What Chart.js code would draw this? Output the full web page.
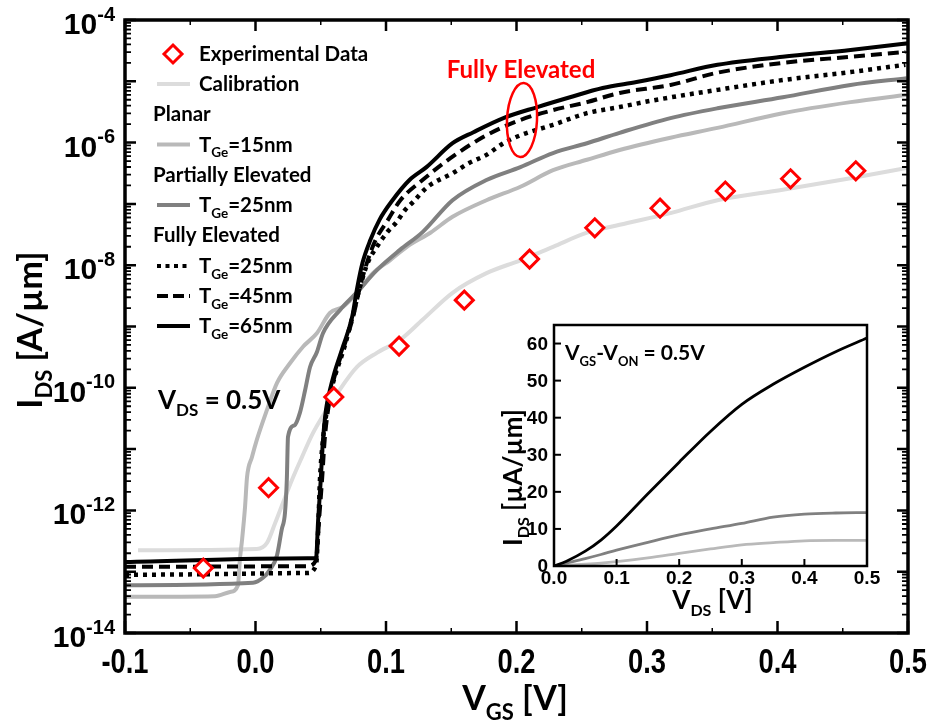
<!DOCTYPE html>
<html><head><meta charset="utf-8">
<script src="https://cdn.jsdelivr.net/npm/chart.js@4.4.1/dist/chart.umd.min.js"></script>
<style>
html,body{margin:0;padding:0;background:#fff;}
#wrap{position:relative;width:932px;height:725px;overflow:hidden;}
#main{position:absolute;left:0;top:0;}
#inset{position:absolute;left:470px;top:305px;}
</style></head><body>
<div id="wrap">
<canvas id="main" width="932" height="725"></canvas>
<canvas id="inset" width="440" height="320"></canvas>
</div>
<script>
// ---------- main plot data (VGS in V, current as log10(I) in A/um) ----------
const vgsExp = [-0.04, 0.01, 0.06, 0.11, 0.16, 0.21, 0.26, 0.31, 0.36, 0.41, 0.46];
const logExp = [-12.94, -11.63, -10.15, -9.32, -8.57, -7.90, -7.39, -7.07, -6.79, -6.59, -6.46];

const vgsCal = [-0.090, 0.001, 0.0088, 0.015, 0.021, 0.028, 0.0356, 0.044, 0.053, 0.063, 0.0778, 0.093, 0.1107, 0.128, 0.151, 0.177, 0.203, 0.228, 0.254, 0.279, 0.318, 0.354, 0.404, 0.456, 0.500];
const logCal = [-12.65, -12.63, -12.53, -12.21, -11.88, -11.50, -11.13, -10.74, -10.41, -10.08, -9.66, -9.43, -9.22, -8.89, -8.45, -8.13, -7.92, -7.70, -7.47, -7.34, -7.15, -6.94, -6.77, -6.58, -6.41];

const vgsPlanar = [-0.1, -0.031, -0.0195, -0.0134, -0.012, -0.0103, -0.008, -0.0065, -0.0027, 0.001, 0.0088, 0.0165, 0.0264, 0.0364, 0.047, 0.057, 0.067, 0.0778, 0.090, 0.103, 0.116, 0.134, 0.151, 0.177, 0.203, 0.228, 0.254, 0.279, 0.318, 0.354, 0.404, 0.456, 0.499];
const logPlanar = [-13.41, -13.40, -13.33, -13.22, -12.81, -12.48, -11.94, -11.46, -11.13, -10.85, -10.36, -9.92, -9.60, -9.33, -9.11, -8.78, -8.68, -8.45, -8.13, -7.92, -7.70, -7.47, -7.21, -6.94, -6.72, -6.45, -6.28, -6.12, -5.92, -5.76, -5.52, -5.34, -5.22];

const vgsPartial = [-0.1, -0.0019, 0.0057, 0.011, 0.0165, 0.020, 0.0226, 0.024, 0.0249, 0.030, 0.034, 0.038, 0.0418, 0.047, 0.0517, 0.0648, 0.0778, 0.093, 0.1107, 0.128, 0.151, 0.177, 0.203, 0.228, 0.254, 0.279, 0.318, 0.354, 0.404, 0.456, 0.499];
const logPartial = [-13.22, -13.18, -13.10, -12.97, -12.73, -12.32, -12.04, -11.50, -10.80, -10.61, -10.41, -10.04, -9.66, -9.42, -9.11, -8.73, -8.44, -8.08, -7.75, -7.46, -6.94, -6.61, -6.40, -6.17, -6.01, -5.84, -5.60, -5.44, -5.26, -5.06, -4.95];

const vgsFull25 = [-0.1, 0.040, 0.0464, 0.048, 0.0494, 0.0517, 0.0548, 0.059, 0.0686, 0.0747, 0.080, 0.086, 0.093, 0.101, 0.108, 0.1146, 0.1207, 0.132, 0.151, 0.164, 0.177, 0.190, 0.203, 0.228, 0.254, 0.279, 0.305, 0.354, 0.404, 0.456, 0.498];
const logFull25 = [-13.05, -13.02, -12.89, -12.32, -11.50, -10.85, -10.36, -9.95, -9.30, -8.81, -8.36, -7.96, -7.70, -7.46, -7.30, -7.10, -6.97, -6.72, -6.50, -6.33, -6.20, -6.01, -5.88, -5.71, -5.52, -5.42, -5.31, -5.14, -4.98, -4.85, -4.73];

const vgsFull45 = [-0.1, 0.0395, 0.0464, 0.0487, 0.051, 0.053, 0.0556, 0.059, 0.067, 0.0747, 0.080, 0.0854, 0.092, 0.1015, 0.111, 0.128, 0.151, 0.177, 0.203, 0.228, 0.254, 0.279, 0.318, 0.354, 0.404, 0.456, 0.498];
const logFull45 = [-12.92, -12.91, -12.81, -12.16, -11.50, -10.85, -10.36, -9.95, -9.38, -8.85, -8.36, -7.96, -7.59, -7.26, -6.94, -6.61, -6.23, -5.88, -5.63, -5.47, -5.34, -5.19, -5.06, -4.86, -4.70, -4.60, -4.52];

const vgsFull65 = [-0.1, 0.040, 0.0464, 0.048, 0.050, 0.0517, 0.054, 0.057, 0.060, 0.067, 0.074, 0.078, 0.082, 0.088, 0.095, 0.105, 0.118, 0.131, 0.151, 0.167, 0.190, 0.216, 0.241, 0.266, 0.292, 0.318, 0.354, 0.404, 0.456, 0.500];
const logFull65 = [-12.84, -12.78, -12.78, -12.16, -11.50, -10.85, -10.36, -10.04, -9.79, -9.33, -8.85, -8.36, -7.96, -7.59, -7.26, -6.94, -6.61, -6.40, -6.01, -5.83, -5.60, -5.42, -5.26, -5.11, -5.01, -4.90, -4.73, -4.60, -4.49, -4.38];

const xTickValues = [-0.1, 0.0, 0.1, 0.2, 0.3, 0.4, 0.5];
const xTickLabels = ['-0.1', '0.0', '0.1', '0.2', '0.3', '0.4', '0.5'];
const yTickExps = [-4, -6, -8, -10, -12, -14];

// ---------- inset data (VDS in V, IDS in uA/um) ----------
const vdsInset = [0, 0.02, 0.05, 0.075, 0.1, 0.15, 0.2, 0.25, 0.3, 0.35, 0.4, 0.45, 0.5];
const idsFullInset = [0, 1.3, 4.0, 7.0, 10.8, 19.5, 28.0, 36.3, 43.6, 49.0, 53.6, 57.8, 61.5];
const idsPartialInset = [0, 0.8, 2.0, 3.1, 4.3, 6.4, 8.4, 10.0, 11.5, 13.2, 14.0, 14.3, 14.4];
const idsPlanarInset = [0, 0.2, 0.5, 0.8, 1.2, 2.2, 3.4, 4.6, 5.7, 6.3, 6.8, 6.9, 6.9];
const insetXTicks = [0, 0.1, 0.2, 0.3, 0.4, 0.5];
const insetXLabels = ['0.0', '0.1', '0.2', '0.3', '0.4', '0.5'];
const insetYTicks = [0, 10, 20, 30, 40, 50, 60];
const insetYLabels = ['0', '10', '20', '30', '40', '50', '60'];

// ---------- styles ----------
const C_CAL = '#dcdcdc', C_PLANAR = '#b9b9b9', C_PART = '#808080', C_BLACK = '#000000', C_RED = '#ff0000';
const LBL = '"Lato", "Open Sans", sans-serif';
const ARIAL = '"Liberation Sans", Arial, sans-serif';

function logPts(xs, ls) { return xs.map((x, i) => ({ x: x, y: Math.pow(10, ls[i]) })); }
function linPts(xs, ys) { return xs.map((x, i) => ({ x: x, y: ys[i] })); }

// rich text: parts = [[text, kind]], kind 0 normal, 1 sub, 2 sup
function rich(ctx, x, y, parts, size, smallSize, family, align, color) {
  const big = 'bold ' + size + 'px ' + family, small = 'bold ' + smallSize + 'px ' + family;
  let total = 0;
  const ws = parts.map(p => { ctx.font = p[1] ? small : big; const w = ctx.measureText(p[0]).width; total += w; return w; });
  let cx = align === 'center' ? x - total / 2 : align === 'right' ? x - total : x;
  ctx.save();
  ctx.fillStyle = color || '#000';
  ctx.textAlign = 'left'; ctx.textBaseline = 'alphabetic';
  parts.forEach((p, i) => {
    ctx.font = p[1] ? small : big;
    const dy = p[1] === 1 ? size * 0.28 : p[1] === 2 ? -size * 0.45 : 0;
    ctx.fillText(p[0], cx, y + dy);
    cx += ws[i];
  });
  ctx.restore();
  return total;
}

function diamond(ctx, x, y, r) {
  ctx.save();
  ctx.beginPath();
  ctx.moveTo(x, y - r); ctx.lineTo(x + r, y); ctx.lineTo(x, y + r); ctx.lineTo(x - r, y); ctx.closePath();
  ctx.fillStyle = '#fff'; ctx.fill();
  ctx.lineWidth = 3; ctx.strokeStyle = C_RED; ctx.stroke();
  ctx.restore();
}

const mainDecor = {
  id: 'mainDecor',
  afterDraw(chart) {
    const ctx = chart.ctx, a = chart.chartArea, xs = chart.scales.x, ys = chart.scales.y;
    ctx.save();
    ctx.strokeStyle = '#000'; ctx.lineCap = 'butt';
    // ticks
    ctx.lineWidth = 2.5;
    for (let e = -14; e <= -4; e++) {
      const yp = ys.getPixelForValue(Math.pow(10, e));
      ctx.beginPath(); ctx.moveTo(a.left, yp); ctx.lineTo(a.left + 11, yp); ctx.moveTo(a.right, yp); ctx.lineTo(a.right - 11, yp); ctx.stroke();
      if (e < -4) {
        for (let m = 2; m <= 9; m++) {
          const ym = ys.getPixelForValue(m * Math.pow(10, e));
          ctx.lineWidth = 1.8;
          ctx.beginPath(); ctx.moveTo(a.left, ym); ctx.lineTo(a.left + 6, ym); ctx.moveTo(a.right, ym); ctx.lineTo(a.right - 6, ym); ctx.stroke();
          ctx.lineWidth = 2.5;
        }
      }
    }
    xTickValues.forEach(v => {
      const xp = xs.getPixelForValue(v);
      ctx.beginPath(); ctx.moveTo(xp, a.bottom); ctx.lineTo(xp, a.bottom - 12); ctx.moveTo(xp, a.top); ctx.lineTo(xp, a.top + 11); ctx.stroke();
    });
    ctx.lineWidth = 1.5;
    for (let i = 0; i < xTickValues.length - 1; i++) {
      const xp = xs.getPixelForValue((xTickValues[i] + xTickValues[i + 1]) / 2);
      ctx.beginPath(); ctx.moveTo(xp, a.bottom); ctx.lineTo(xp, a.bottom - 5); ctx.moveTo(xp, a.top); ctx.lineTo(xp, a.top + 5); ctx.stroke();
    }
    // frame
    ctx.lineWidth = 3.5;
    ctx.strokeRect(a.left, a.top, a.right - a.left, a.bottom - a.top);
    // x tick labels (condensed bold)
    ctx.fillStyle = '#000';
    ctx.font = 'bold 35px ' + ARIAL; ctx.textAlign = 'center'; ctx.textBaseline = 'middle';
    xTickValues.forEach((v, i) => {
      ctx.save(); ctx.translate(xs.getPixelForValue(v), 663); ctx.scale(0.78, 1);
      ctx.fillText(xTickLabels[i], 0, 0); ctx.restore();
    });
    // y tick labels
    yTickExps.forEach(e => {
      const yp = ys.getPixelForValue(Math.pow(10, e));
      rich(ctx, 115, yp + 14, [['10', 0], [String(e), 2]], 30, 20, ARIAL, 'right');
    });
    // axis titles
    rich(ctx, 515, 710, [['V', 0], ['GS', 1], [' [V]', 0]], 34, 22, LBL, 'center');
    ctx.save(); ctx.translate(42, 330); ctx.rotate(-Math.PI / 2);
    rich(ctx, 0, 0, [['I', 0], ['DS', 1], [' [A/\u00b5m]', 0]], 34, 22, LBL, 'center');
    ctx.restore();
    // legend
    const lx = 199, lxl = 157, lxr = 190, fs = 20.5, fss = 13.5;
    diamond(ctx, 173, 54, 9);
    rich(ctx, lx, 54 + 7, [['Experimental Data', 0]], fs, fss, LBL, 'left');
    const seg = (y, color, w, dash) => { ctx.save(); ctx.strokeStyle = color; ctx.lineWidth = w; ctx.setLineDash(dash); ctx.beginPath(); ctx.moveTo(lxl, y); ctx.lineTo(lxr, y); ctx.stroke(); ctx.restore(); };
    seg(84, C_CAL, 4, []);
    rich(ctx, lx, 84 + 7, [['Calibration', 0]], fs, fss, LBL, 'left');
    rich(ctx, 153, 114 + 7, [['Planar', 0]], fs, fss, LBL, 'left');
    seg(144.5, C_PLANAR, 4, []);
    rich(ctx, lx, 144.5 + 7, [['T', 0], ['Ge', 1], ['=15nm', 0]], fs, fss, LBL, 'left');
    rich(ctx, 153, 175 + 7, [['Partially Elevated', 0]], fs, fss, LBL, 'left');
    seg(205, C_PART, 4, []);
    rich(ctx, lx, 205 + 7, [['T', 0], ['Ge', 1], ['=25nm', 0]], fs, fss, LBL, 'left');
    rich(ctx, 153, 235 + 7, [['Fully Elevated', 0]], fs, fss, LBL, 'left');
    seg(266, C_BLACK, 4, [4, 4.5]);
    rich(ctx, lx, 266 + 7, [['T', 0], ['Ge', 1], ['=25nm', 0]], fs, fss, LBL, 'left');
    seg(296, C_BLACK, 4, [11, 5]);
    rich(ctx, lx, 296 + 7, [['T', 0], ['Ge', 1], ['=45nm', 0]], fs, fss, LBL, 'left');
    seg(326, C_BLACK, 4, []);
    rich(ctx, lx, 326 + 7, [['T', 0], ['Ge', 1], ['=65nm', 0]], fs, fss, LBL, 'left');
    // annotations
    rich(ctx, 158, 400 + 9, [['V', 0], ['DS', 1], [' = 0.5V', 0]], 26, 17, LBL, 'left');
    rich(ctx, 521, 70 + 8, [['Fully Elevated', 0]], 24, 15, LBL, 'center', C_RED);
    ctx.strokeStyle = C_RED; ctx.lineWidth = 2.5;
    ctx.beginPath(); ctx.ellipse(522, 120, 15, 37, 0.05, 0, Math.PI * 2); ctx.stroke();
    ctx.restore();
  }
};

const lineOpts = { pointRadius: 0, pointHoverRadius: 0, cubicInterpolationMode: 'monotone' };

new Chart(document.getElementById('main'), {
  type: 'line',
  data: {
    datasets: [
      { label: 'Experimental Data', data: logPts(vgsExp, logExp), showLine: false, pointStyle: 'rectRot', pointRadius: 9, pointHoverRadius: 9, pointBorderWidth: 3, pointBorderColor: C_RED, pointBackgroundColor: '#fff' },
      Object.assign({ label: 'TGe=65nm', data: logPts(vgsFull65, logFull65), borderColor: C_BLACK, borderWidth: 4 }, lineOpts),
      Object.assign({ label: 'TGe=45nm', data: logPts(vgsFull45, logFull45), borderColor: C_BLACK, borderWidth: 4, borderDash: [11, 6] }, lineOpts),
      Object.assign({ label: 'TGe=25nm (fully)', data: logPts(vgsFull25, logFull25), borderColor: C_BLACK, borderWidth: 4.5, borderDash: [4, 5] }, lineOpts),
      Object.assign({ label: 'TGe=25nm (partially)', data: logPts(vgsPartial, logPartial), borderColor: C_PART, borderWidth: 4 }, lineOpts),
      Object.assign({ label: 'TGe=15nm (planar)', data: logPts(vgsPlanar, logPlanar), borderColor: C_PLANAR, borderWidth: 4 }, lineOpts),
      Object.assign({ label: 'Calibration', data: logPts(vgsCal, logCal), borderColor: C_CAL, borderWidth: 4 }, lineOpts)
    ]
  },
  options: {
    responsive: false, animation: false, devicePixelRatio: 1,
    layout: { padding: { left: 125, right: 24, top: 20, bottom: 92 } },
    plugins: { legend: { display: false }, tooltip: { enabled: false } },
    scales: {
      x: { type: 'linear', min: -0.1, max: 0.5, display: false },
      y: { type: 'logarithmic', min: 1e-14, max: 1e-4, display: false }
    }
  },
  plugins: [mainDecor]
});

const insetDecor = {
  id: 'insetDecor',
  afterDraw(chart) {
    const ctx = chart.ctx, a = chart.chartArea, xs = chart.scales.x, ys = chart.scales.y;
    ctx.save();
    ctx.strokeStyle = '#000'; ctx.lineWidth = 2;
    insetYTicks.forEach(v => { const yp = ys.getPixelForValue(v); ctx.beginPath(); ctx.moveTo(a.left, yp); ctx.lineTo(a.left + 7, yp); ctx.stroke(); });
    insetXTicks.forEach(v => { const xp = xs.getPixelForValue(v); ctx.beginPath(); ctx.moveTo(xp, a.bottom); ctx.lineTo(xp, a.bottom - 7); ctx.stroke(); });
    ctx.lineWidth = 2.5;
    ctx.strokeRect(a.left, a.top, a.right - a.left, a.bottom - a.top);
    ctx.fillStyle = '#000';
    ctx.font = 'bold 19px ' + ARIAL; ctx.textAlign = 'right'; ctx.textBaseline = 'middle';
    insetYTicks.forEach((v, i) => ctx.fillText(insetYLabels[i], a.left - 6, ys.getPixelForValue(v) + 1));
    ctx.textAlign = 'center';
    insetXTicks.forEach((v, i) => ctx.fillText(insetXLabels[i], xs.getPixelForValue(v), a.bottom + 13));
    rich(ctx, (a.left + a.right) / 2 + 2, a.bottom + 43, [['V', 0], ['DS', 1], [' [V]', 0]], 26, 16, LBL, 'center');
    ctx.save(); ctx.translate(52, (a.top + a.bottom) / 2 + 32); ctx.rotate(-Math.PI / 2);
    rich(ctx, 0, 0, [['I', 0], ['DS', 1], [' [\u00b5A/\u00b5m]', 0]], 26, 16, LBL, 'center');
    ctx.restore();
    rich(ctx, a.left + 11, a.top + 35, [['V', 0], ['GS', 1], ['-V', 0], ['ON', 1], [' = 0.5V', 0]], 21, 13, LBL, 'left');
    ctx.restore();
  }
};

new Chart(document.getElementById('inset'), {
  type: 'line',
  data: {
    datasets: [
      Object.assign({ label: 'Fully Elevated', data: linPts(vdsInset, idsFullInset), borderColor: C_BLACK, borderWidth: 2.8 }, lineOpts),
      Object.assign({ label: 'Partially Elevated', data: linPts(vdsInset, idsPartialInset), borderColor: C_PART, borderWidth: 2.8 }, lineOpts),
      Object.assign({ label: 'Planar', data: linPts(vdsInset, idsPlanarInset), borderColor: C_PLANAR, borderWidth: 2.8 }, lineOpts)
    ]
  },
  options: {
    responsive: false, animation: false, devicePixelRatio: 1,
    layout: { padding: { left: 84, right: 43, top: 20, bottom: 59 } },
    plugins: { legend: { display: false }, tooltip: { enabled: false } },
    scales: {
      x: { type: 'linear', min: 0, max: 0.5, display: false },
      y: { type: 'linear', min: 0, max: 65, display: false }
    }
  },
  plugins: [insetDecor]
});
</script>
</body></html>
